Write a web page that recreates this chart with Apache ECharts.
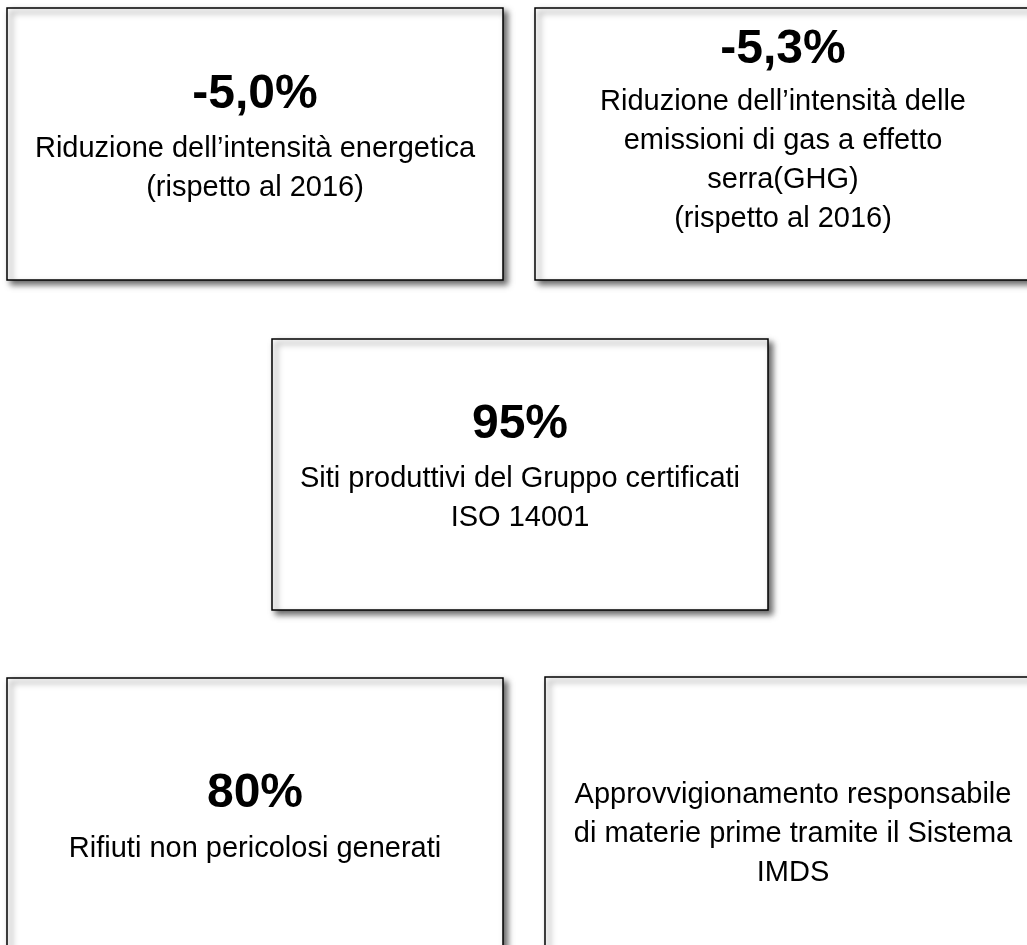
<!DOCTYPE html>
<html>
<head>
<meta charset="utf-8">
<script src="https://cdn.jsdelivr.net/npm/echarts@6/dist/echarts.min.js"></script>
<style>
html,body{margin:0;padding:0;background:#fff;}
#chart{width:1027px;height:945px;}
</style>
</head>
<body>
<div id="chart"></div>
<script>
// Data
var kpiValues = ['-5,0%', '-5,3%', '95%', '80%', ''];
var kpiLabels = [
  'Riduzione dell\u2019intensità energetica\n(rispetto al 2016)',
  'Riduzione dell\u2019intensità delle\nemissioni di gas a effetto\nserra(GHG)\n(rispetto al 2016)',
  'Siti produttivi del Gruppo certificati\nISO 14001',
  'Rifiuti non pericolosi generati',
  'Approvvigionamento responsabile\ndi materie prime tramite il Sistema\nIMDS'
];

// Layout (positions / sizes)
var boxes = [
  {x: 7,   y: 8,   w: 496, h: 272, numY: 95,  bodyY: 149},
  {x: 535, y: 8,   w: 496, h: 272, numY: 50,  bodyY: 102},
  {x: 272, y: 339, w: 496, h: 271, numY: 425, bodyY: 479},
  {x: 7,   y: 678, w: 496, h: 290, numY: 794, bodyY: 849},
  {x: 545, y: 677, w: 496, h: 290, numY: 740, bodyY: 795}
];

var FONT = '"Liberation Sans", Arial, Helvetica, sans-serif';
var LH = 39;
var elements = [];
boxes.forEach(function (b, i) {
  var cx = b.x + b.w / 2;
  elements.push({
    type: 'rect',
    shape: {x: b.x, y: b.y, width: b.w, height: b.h},
    style: {
      fill: '#fff', stroke: '#000', lineWidth: 1.5,
      shadowBlur: 6, shadowOffsetX: 4, shadowOffsetY: 4,
      shadowColor: 'rgba(0,0,0,0.6)'
    }
  });
  if (kpiValues[i]) {
    elements.push({
      type: 'text',
      x: cx, y: b.numY,
      style: {
        text: kpiValues[i], fill: '#000',
        font: 'bold 48px ' + FONT,
        textAlign: 'center', textVerticalAlign: 'middle'
      }
    });
  }
  elements.push({
    type: 'text',
    x: cx, y: b.bodyY - LH / 2,
    style: {
      text: kpiLabels[i], fill: '#000',
      font: '29px ' + FONT, lineHeight: LH,
      textAlign: 'center', textVerticalAlign: 'top'
    }
  });
});

var chart = echarts.init(document.getElementById('chart'), null, {renderer: 'canvas'});
chart.setOption({
  backgroundColor: '#fff',
  animation: false,
  graphic: {elements: elements}
});
</script>
</body>
</html>
